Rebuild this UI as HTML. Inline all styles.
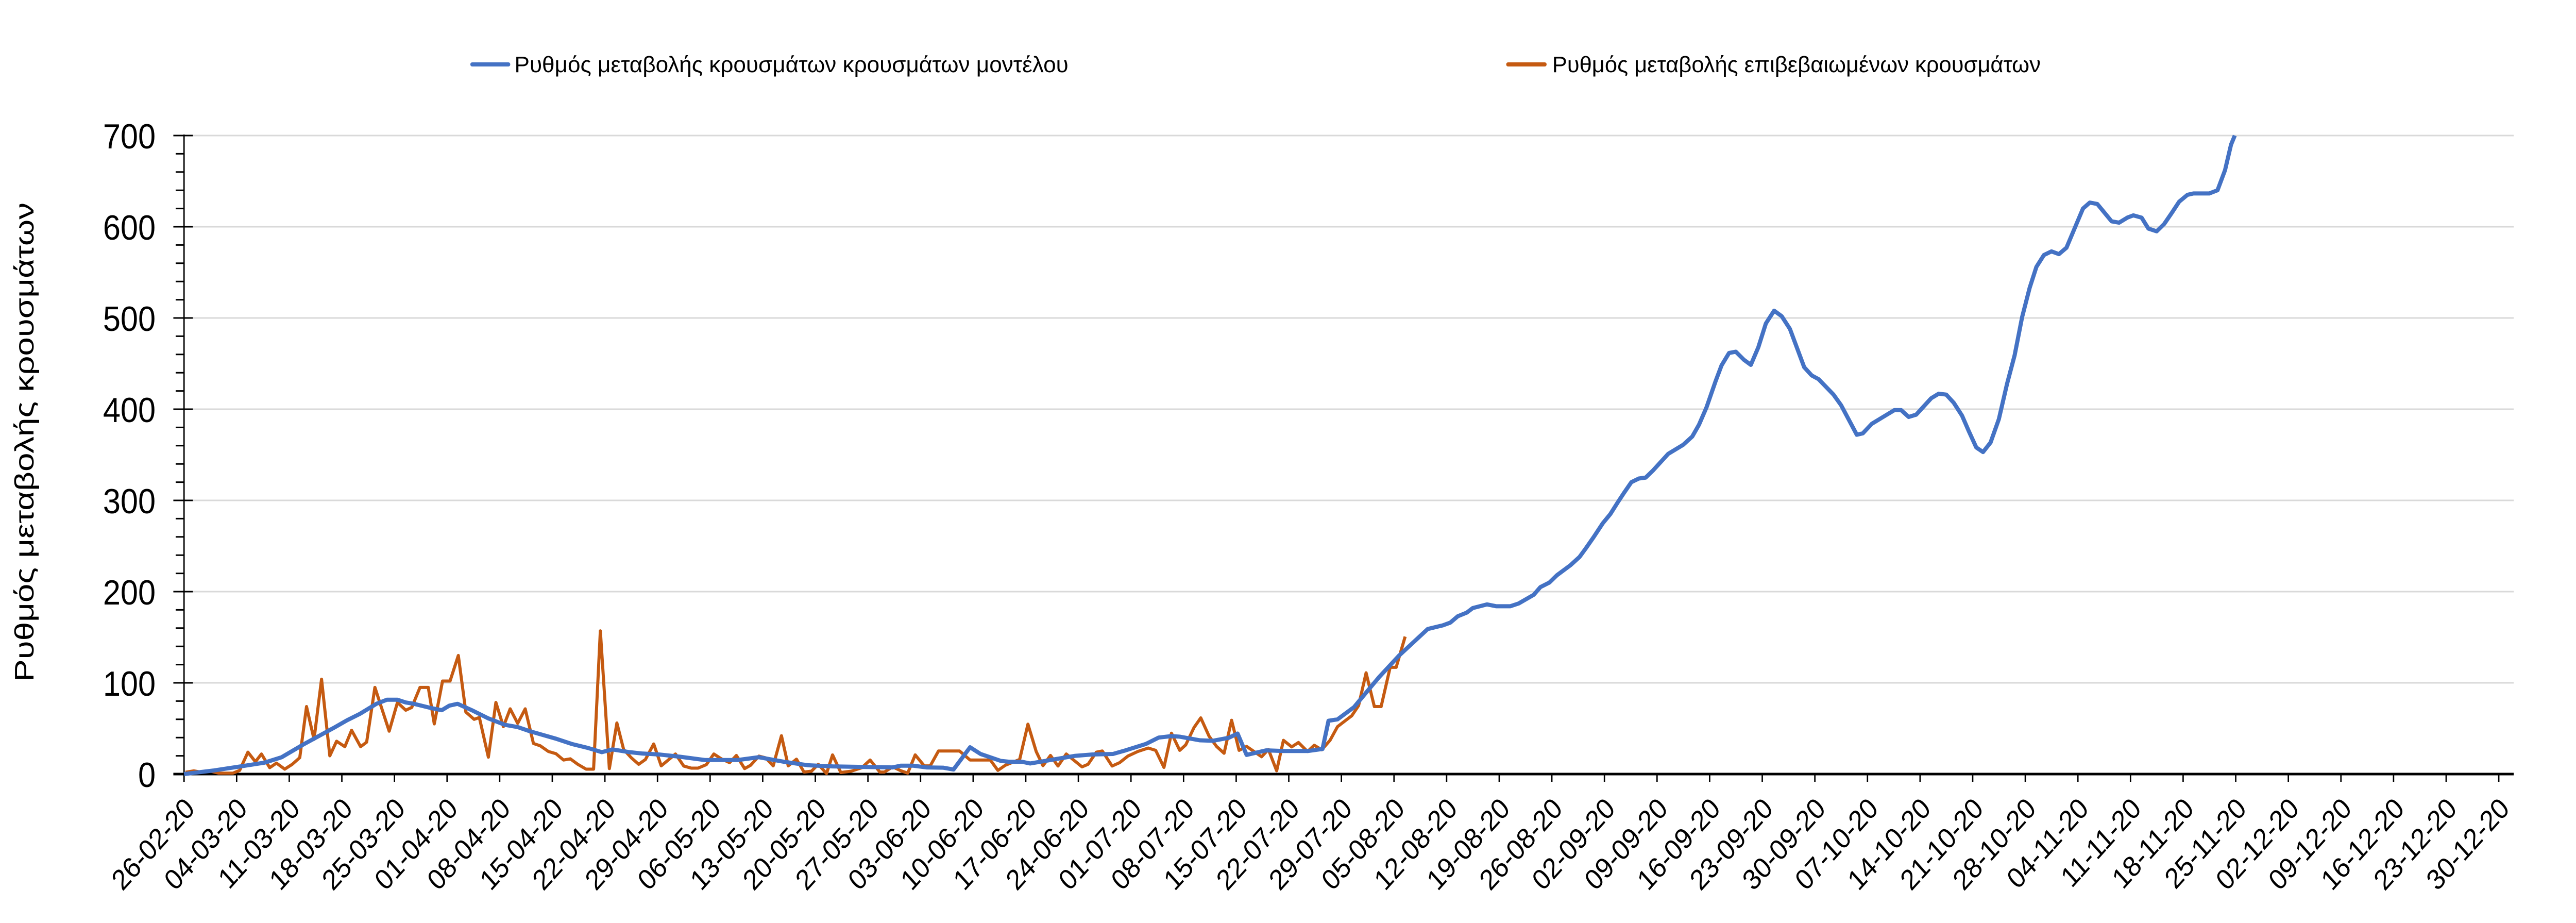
<!DOCTYPE html>
<html><head><meta charset="utf-8"><meta name="viewport" content="width=5543, initial-scale=1"><style>
html,body{margin:0;padding:0;background:#fff;width:100%;height:100%;overflow:hidden;}
svg{display:block;position:absolute;left:0;top:0;width:100vw;height:100vh;}
text{font-family:"Liberation Sans",sans-serif;fill:#000;}
</style></head><body>
<svg viewBox="0 0 5543 1791" preserveAspectRatio="none" xmlns="http://www.w3.org/2000/svg" overflow="hidden">
<rect width="5543" height="1791" fill="#fff"/>
<g stroke="#d9d9d9" stroke-width="3">
<line x1="396" y1="263" x2="5409" y2="263"/>
<line x1="396" y1="440" x2="5409" y2="440"/>
<line x1="396" y1="617" x2="5409" y2="617"/>
<line x1="396" y1="794" x2="5409" y2="794"/>
<line x1="396" y1="971" x2="5409" y2="971"/>
<line x1="396" y1="1148" x2="5409" y2="1148"/>
<line x1="396" y1="1325" x2="5409" y2="1325"/>
</g>
<g stroke="#000" stroke-width="3">
<line x1="396" y1="261" x2="396" y2="1517"/>
<line x1="373" y1="263" x2="415" y2="263"/><line x1="373" y1="440" x2="415" y2="440"/><line x1="373" y1="617" x2="415" y2="617"/><line x1="373" y1="794" x2="415" y2="794"/><line x1="373" y1="971" x2="415" y2="971"/><line x1="373" y1="1148" x2="415" y2="1148"/><line x1="373" y1="1325" x2="415" y2="1325"/>
</g>
<g stroke="#000" stroke-width="3" id="minor"></g>
<line x1="373" y1="1502" x2="5409" y2="1502" stroke="#000" stroke-width="5"/>
<g id="xt" stroke="#000" stroke-width="3"></g>
<g font-size="68" text-anchor="end">
<text x="335" y="288">700</text><text x="335" y="465">600</text><text x="335" y="642">500</text><text x="335" y="819">400</text><text x="335" y="996">300</text><text x="335" y="1173">200</text><text x="335" y="1350">100</text><text x="335" y="1527">0</text>
</g>
<text transform="translate(72,858) rotate(-90)" font-size="58" text-anchor="middle" textLength="930" lengthAdjust="spacingAndGlyphs">Ρυθμός μεταβολής κρουσμάτων</text>
<line x1="1016" y1="125" x2="1094" y2="125" stroke="#4472C4" stroke-width="8" stroke-linecap="round"/>
<text x="1107" y="140" font-size="44" textLength="1192" lengthAdjust="spacingAndGlyphs">Ρυθμός μεταβολής κρουσμάτων κρουσμάτων μοντέλου</text>
<line x1="3245" y1="125" x2="3324" y2="125" stroke="#C55A11" stroke-width="8" stroke-linecap="round"/>
<text x="3340" y="140" font-size="44" textLength="1051" lengthAdjust="spacingAndGlyphs">Ρυθμός μεταβολής επιβεβαιωμένων κρουσμάτων</text>
<g id="xl" font-size="56" text-anchor="end"></g>
<g transform="translate(396,1502) scale(16.17,-1.77)" fill="none" stroke-linejoin="round">
<polyline vector-effect="non-scaling-stroke" stroke="#C55A11" stroke-width="6" points="0.2,2 1.3,3.5 2.4,2 3.4,3.5 4.6,1 6.5,1 7.4,4 8.5,24 9.5,13.5 10.3,22 11.4,7 12.3,12 13.4,5.4 14.4,10.7 15.4,18 16.3,74 17.3,38 18.3,104 19.4,20 20.3,36 21.4,30 22.3,48 23.5,30 24.3,35 25.4,95 27.3,47 28.4,78.5 29.5,70 30.3,73 31.4,95 32.5,95 33.3,55 34.4,102 35.4,102 36.5,130 37.5,68 38.6,60 39.3,62 40.5,18.5 41.5,78.5 42.5,52 43.4,71.5 44.4,55.6 45.4,71.5 46.5,33.5 47.4,31 48.5,24.7 49.5,22.3 50.5,15.4 51.4,16.7 52.4,10.7 53.5,5.4 54.5,5.4 55.4,157 56.6,6 57.6,56 58.5,27 59.5,18 60.5,10.7 61.4,16 62.5,33 63.5,9 65.4,22 66.5,8.8 67.5,6.5 68.4,6.5 69.5,10.3 70.5,22 71.5,16.7 72.6,12.5 73.5,20.4 74.6,6 75.4,9.7 76.5,19.7 77.4,17.8 78.4,9 79.5,42 80.4,9 81.5,16.3 82.5,2.2 83.5,3.2 84.4,10.7 85.5,0.6 86.3,21 87.4,1.7 88.8,3.2 90.2,7 91.3,15.4 92.6,2.2 93.2,2.2 94.3,7.9 95.4,3.6 96.3,1 97.3,21 98.5,9 99.3,9 100.4,25.3 103.2,25.3 104.6,15.4 107.3,15.4 108.3,4 109.3,9.7 111.2,16 112.3,54.7 113.4,24.7 114.3,9.2 115.3,20.4 116.3,8.8 117.4,22 119.5,7.9 120.3,10.7 121.4,24 122.2,25.3 123.5,8.8 124.5,12.5 125.6,19.7 126.9,24.7 128.3,28.5 129.3,26 130.4,7.3 131.4,44.8 132.5,26 133.3,32 134.4,51 135.3,61.6 136.4,41.6 137.4,30.3 138.4,22.8 139.4,59 140.4,26 141.4,30.3 143.4,19 144.3,27 145.4,3.6 146.3,37 147.4,29.8 148.3,34.6 149.5,24.7 150.4,31.6 151.4,26.6 152.5,37 153.5,52 155.4,64 156.3,75 157.3,111 158.4,74 159.3,74 160.5,117 161.3,117 162.5,150.7"/>
<polyline vector-effect="non-scaling-stroke" stroke="#4472C4" stroke-width="8" points="0,0 4,4 8,9 10.7,12.5 13,18.5 16,33 20,51 21.7,59 23.4,66 25.6,77 27,81.5 28.4,81.5 29.5,78.5 30.6,77 32.8,72.5 34.3,70 35.3,75 36.4,77 38.3,70 40.5,61 42.7,54 44.4,51.5 46,47 49.4,39 51.6,33 53.8,28.5 55.6,24 57,27 59.3,24 61,22.5 63.2,21.5 66,19 69.3,15.4 73.7,15.4 76.5,18.5 79.8,13.5 83,9.7 86.3,8.4 94.3,7.3 95.4,9.2 97,9.2 98.8,7.3 101,7 102.4,5 104.6,29.4 106,22 108.7,14.4 109.8,13.5 111.5,13.5 112.6,11.6 115.3,15.4 118.6,20 120.9,21.5 123.6,22 125.3,26 128,33 129.7,40 131.4,41.6 132.5,41 135.2,37 136.9,36.5 139,39.7 140.2,44.4 141.4,21 144,26 146.3,25.3 149.6,25.3 151.5,27.5 152.3,58.4 153.5,60 155.7,73.4 157.3,89.3 159,106 161.7,130 163.4,143 165.5,159 167.5,163 168.5,166 169.5,173 170.7,177 171.5,182 173.4,186 174.6,184 176.5,184 177.6,187 179.6,196.5 180.5,205 181.7,210 182.7,218 184.5,229 185.7,238 186.5,247 187.6,260 188.8,275 189.8,285 190.8,298 191.6,308 192.6,320 193.6,324 194.5,325 195.5,333 197.5,351 199.5,361 200.7,370 201.6,383 202.6,402 203.8,430.5 204.6,448 205.6,461.6 206.5,463 207.6,454 208.5,448.6 209.5,468 210.5,494 211.6,508 212.6,502 213.7,488 215.6,446 216.6,437 217.5,433 219.5,416 220.5,404.5 222.6,372 223.4,373.5 224.6,384 226.6,394 227.6,399 228.5,399 229.5,391.5 230.5,394 232.5,412 233.5,417 234.5,416 235.5,407 236.6,393 237.5,376 238.5,358 239.4,353 240.4,363.5 241.5,389 242.6,428 243.6,459 244.6,501 245.6,533 246.5,556 247.5,569 248.5,573 249.5,570 250.5,577 251.7,600.5 252.7,620 253.6,626.5 254.6,625 255.6,615 256.5,606 257.5,604.5 258.6,610 259.4,612.5 260.5,610 261.4,598 262.5,595 263.5,603 264.5,615 265.5,627.5 266.6,635 267.4,636.5 269.5,636.5 270.6,640 271.6,662 272.4,690 272.9,700"/>
</g>
</svg>
<script>
(function(){
var ns="http://www.w3.org/2000/svg";
var mg=document.getElementById("minor");
for(var v=0;v<=700;v+=20){if(v%100===0)continue;var y=1502-1.77*v;var l=document.createElementNS(ns,"line");l.setAttribute("x1",378);l.setAttribute("x2",396);l.setAttribute("y1",y);l.setAttribute("y2",y);mg.appendChild(l);}
var xt=document.getElementById("xt"),xl=document.getElementById("xl");
var start=new Date(2020,1,26);
for(var k=0;k<45;k++){
 var x=396+113.2*k;
 var l=document.createElementNS(ns,"line");l.setAttribute("x1",x);l.setAttribute("x2",x);l.setAttribute("y1",1502);l.setAttribute("y2",1517);xt.appendChild(l);
 var d=new Date(start.getTime()+k*7*86400000+3600000*12);
 var s=("0"+d.getDate()).slice(-2)+"-"+("0"+(d.getMonth()+1)).slice(-2)+"-20";
 var t=document.createElementNS(ns,"text");var ax=x+26,ay=1572;
 t.setAttribute("x",ax);t.setAttribute("y",ay);t.setAttribute("transform","rotate(-45 "+ax+" "+ay+")");t.textContent=s;xl.appendChild(t);
}
})();
</script>
</body></html>
